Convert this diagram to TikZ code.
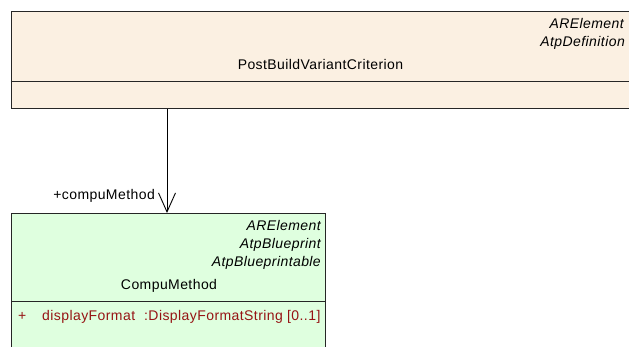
\documentclass[tikz,border=0pt]{standalone}
\usepackage{fontspec}
\setmainfont[LetterSpace=3]{Liberation Sans}
\usetikzlibrary{arrows.meta,positioning}
\definecolor{critfill}{RGB}{251,240,226}
\definecolor{compufill}{RGB}{223,255,223}
\definecolor{attrred}{RGB}{150,20,20}
\tikzset{
  classbox/.style={draw=black!85, line width=1pt, anchor=north west, inner sep=0pt},
  stereo/.style={font=\fontsize{14}{17}\selectfont\itshape, anchor=base east, inner sep=0pt},
  cname/.style={font=\fontsize{14}{17}\selectfont, anchor=base, inner sep=0pt},
  assoc/.style={draw=black, line width=0.9pt, -{Straight Barb[length=19pt,width=17pt]}}
}
\begin{document}
\begin{tikzpicture}[x=1pt,y=-1pt]
  \useasboundingbox (0,0) rectangle (629,347);
  \clip (0,0) rectangle (629,347);
  % PostBuildVariantCriterion
  \node[classbox,fill=critfill,minimum width=622pt,minimum height=97pt] (crit) at (10.5,11.5) {};
  \draw[black!85,line width=1pt] (10.5,81.5) -- (632.5,81.5); % attribute compartment
  \node[stereo] (critst1) at (624,28.5) {ARElement};
  \node[stereo] (critst2) at (625,46.5) {AtpDefinition};
  \node[cname] (critname) at (320.5,70) {PostBuildVariantCriterion};
  % CompuMethod
  \node[classbox,fill=compufill,minimum width=314pt,minimum height=150pt] (compu) at (11,213) {};
  \draw[black!85,line width=1pt] (11,302) -- (325,302); % attribute compartment
  \node[stereo] (compust1) at (321,230.5) {ARElement};
  \node[stereo] (compust2) at (321,248.5) {AtpBlueprint};
  \node[stereo] (compust3) at (321,267) {AtpBlueprintable};
  \node[cname] (compuname) at (169,290) {CompuMethod};
  \node[cname,anchor=base west,text=attrred] (attr) at (18,320)
    {\makebox[24pt][l]{+}\makebox[102pt][l]{displayFormat}:DisplayFormatString [0..1]};
  % association
  \coordinate (tip) at (167,212);
  \draw[assoc] (crit.south -| tip) -- (compu.north -| tip);
  \node[cname,anchor=base east] (role) at (155,200) {+compuMethod};
\end{tikzpicture}
\end{document}
